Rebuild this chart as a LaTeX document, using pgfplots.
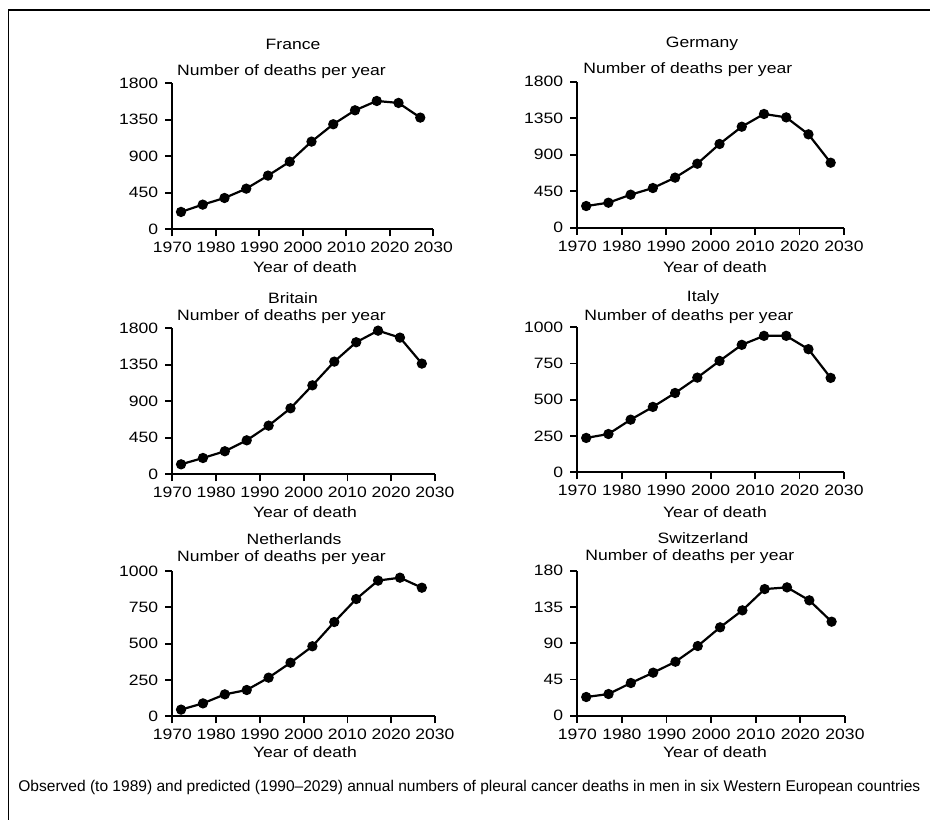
\documentclass[border=0pt]{standalone}
\usepackage{fontspec}
\setmainfont{Liberation Sans}[FakeStretch=1.17]
\newfontfamily\capfont{Liberation Sans}[Ligatures=TeX]
\usepackage{pgfplots}
\pgfplotsset{compat=1.18}
\pgfplotsset{
  panel/.style={
    scale only axis,
    anchor=south west,
    axis lines=left,
    axis line style={-, line width=1pt, black},
    xmin=1970, xmax=2030,
    xtick={1970,1980,...,2030},
    ymin=0,
    tick align=outside,
    major tick length=3.5pt,
    tick style={line width=0.9pt, black},
    every tick label/.append style={font=\fontsize{7.5}{8}\selectfont},
    xticklabel style={inner sep=2.8pt},
    /pgf/number format/assume math mode=true,
    /pgf/number format/1000 sep={},
    clip=false,
    every axis plot post/.append style={black, line width=1.1pt, mark=*, mark size=2pt, mark options={solid, fill=black}},
  }
}
\begin{document}
\begin{tikzpicture}
\path[use as bounding box] (0pt,0pt) rectangle (465pt,409.5pt);
\draw[line width=0.7pt] (4.25pt,-1pt) -- (4.25pt,404.5pt) -- (466pt,404.5pt);

% France
\begin{axis}[panel, at={(86.15pt,294.85pt)}, width=130.5pt, height=73pt,
  ymax=1800, ytick={0,450,900,1350,1800}]
\addplot coordinates {(1972,214)(1977,304)(1982,386)(1987,501)(1992,662)(1997,834)(2002,1081)(2007,1295)(2012,1467)(2017,1582)(2022,1558)(2027,1377)};
\end{axis}
% Germany
\begin{axis}[panel, at={(288.65pt,295.65pt)}, width=133.35pt, height=73pt,
  ymax=1800, ytick={0,450,900,1350,1800}]
\addplot coordinates {(1972,267)(1977,308)(1982,407)(1987,489)(1992,617)(1997,789)(2002,1032)(2007,1245)(2012,1402)(2017,1360)(2022,1151)(2027,801)};
\end{axis}
% Britain
\begin{axis}[panel, at={(86.15pt,172.35pt)}, width=131.35pt, height=73pt,
  ymax=1800, ytick={0,450,900,1350,1800}]
\addplot coordinates {(1972,123)(1977,201)(1982,284)(1987,419)(1992,600)(1997,814)(2002,1097)(2007,1389)(2012,1628)(2017,1771)(2022,1685)(2027,1365)};
\end{axis}
% Italy
\begin{axis}[panel, at={(288.65pt,173.35pt)}, width=133.35pt, height=72.5pt,
  ymax=1000, ytick={0,250,500,750,1000}]
\addplot coordinates {(1972,237)(1977,264)(1982,363)(1987,451)(1992,547)(1997,653)(2002,768)(2007,879)(2012,941)(2017,941)(2022,849)(2027,651)};
\end{axis}
% Netherlands
\begin{axis}[panel, at={(86.15pt,51.35pt)}, width=131.35pt, height=72.65pt,
  ymax=1000, ytick={0,250,500,750,1000}]
\addplot coordinates {(1972,46)(1977,89)(1982,151)(1987,181)(1992,266)(1997,369)(2002,482)(2007,649)(2012,807)(2017,934)(2022,954)(2027,885)};
\end{axis}
% Switzerland
\begin{axis}[panel, at={(288.65pt,51.65pt)}, width=133.85pt, height=72.5pt,
  ymax=180, ytick={0,45,90,135,180}]
\addplot coordinates {(1972,23.2)(1977,26.9)(1982,40.6)(1987,53.4)(1992,67.0)(1997,86.5)(2002,109.7)(2007,130.8)(2012,157.2)(2017,159.3)(2022,143.2)(2027,116.7)};
\end{axis}

\begin{scope}[every node/.style={font=\fontsize{7.5}{8}\selectfont, inner sep=0pt}]
% titles
\node at (146.5pt,387.5pt) {France};
\node at (351pt,387.5pt) {Germany};
\node at (146.5pt,260.5pt) {Britain};
\node at (351.5pt,260.5pt) {Italy};
\node at (147pt,140pt) {Netherlands};
\node at (351.5pt,140.5pt) {Switzerland};
% y labels
\node[anchor=west] at (88.35pt,373.65pt) {Number of deaths per year};
\node[anchor=west] at (291.5pt,374.5pt) {Number of deaths per year};
\node[anchor=west] at (88.35pt,251pt) {Number of deaths per year};
\node[anchor=west] at (292pt,251.15pt) {Number of deaths per year};
\node[anchor=west] at (88.35pt,130.5pt) {Number of deaths per year};
\node[anchor=west] at (292.5pt,131pt) {Number of deaths per year};
% x labels
\node at (152.5pt,276pt) {Year of death};
\node at (357.5pt,276pt) {Year of death};
\node at (152.5pt,153.5pt) {Year of death};
\node at (357.5pt,153.5pt) {Year of death};
\node at (152.5pt,33.5pt) {Year of death};
\node at (357.5pt,33.5pt) {Year of death};
% caption
\node[anchor=west] at (9pt,16pt) {\resizebox{451pt}{!}{\capfont Observed (to 1989) and predicted (1990–2029) annual numbers of pleural cancer deaths in men in six Western European countries}};
\end{scope}
\end{tikzpicture}
\end{document}
